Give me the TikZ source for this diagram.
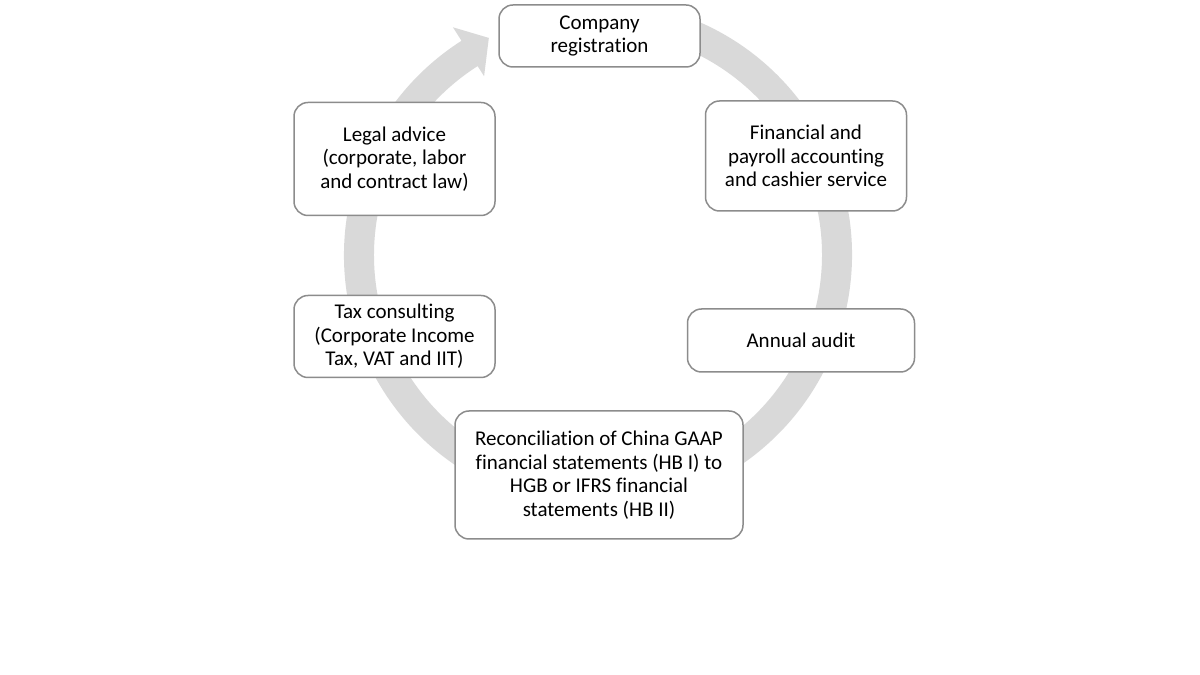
\documentclass[tikz,border=0pt]{standalone}
\usepackage{fontspec}
\setmainfont{Carlito}[Ligatures={NoCommon}]
\definecolor{ringgray}{RGB}{217,217,217}
\definecolor{boxline}{RGB}{140,140,140}
\tikzset{
  box/.style={draw=boxline, line width=1.5pt, fill=white, rounded corners=14pt,
    align=center, inner sep=0pt, font=\fontsize{21}{23.5}\selectfont, text=black},
  ring/.style={fill=ringgray}
}
\begin{document}
\begin{tikzpicture}[x=1pt,y=1pt]
\useasboundingbox (0,0) rectangle (1200,675);
\fill[white] (0,0) rectangle (1200,675);
% circular arrow
\begin{scope}[shift={(598,420)}]
\fill[ring] (80:254pt) arc[start angle=80, end angle=-237.5, radius=254pt]
  -- (122.5:270pt) -- (116.7:243pt) -- (122.5:212pt) -- (122.5:224pt)
  arc[start angle=-237.5, end angle=80, radius=224pt] -- cycle;
\end{scope}
% boxes
\node[box, minimum width=201pt, minimum height=62pt] (reg) at (599.5,639) {Company\\registration};
\node[box, minimum width=201pt, minimum height=110pt] (fin) at (806,519) {Financial and\\payroll accounting\\and cashier service};
\node[box, minimum width=227pt, minimum height=63pt] (aud) at (801,334.5) {Annual audit};
\node[box, minimum width=288pt, minimum height=128pt] (rec) at (599,200) {Reconciliation of China GAAP\\financial statements (HB I) to\\HGB or IFRS financial\\statements (HB II)};
\node[box, minimum width=201pt, minimum height=82pt] (tax) at (394.5,338.5) {Tax consulting\\(Corporate Income\\Tax, VAT and IIT)};
\node[box, minimum width=201pt, minimum height=113pt] (leg) at (394.5,516) {Legal advice\\(corporate, labor\\and contract law)};
\end{tikzpicture}
\end{document}
